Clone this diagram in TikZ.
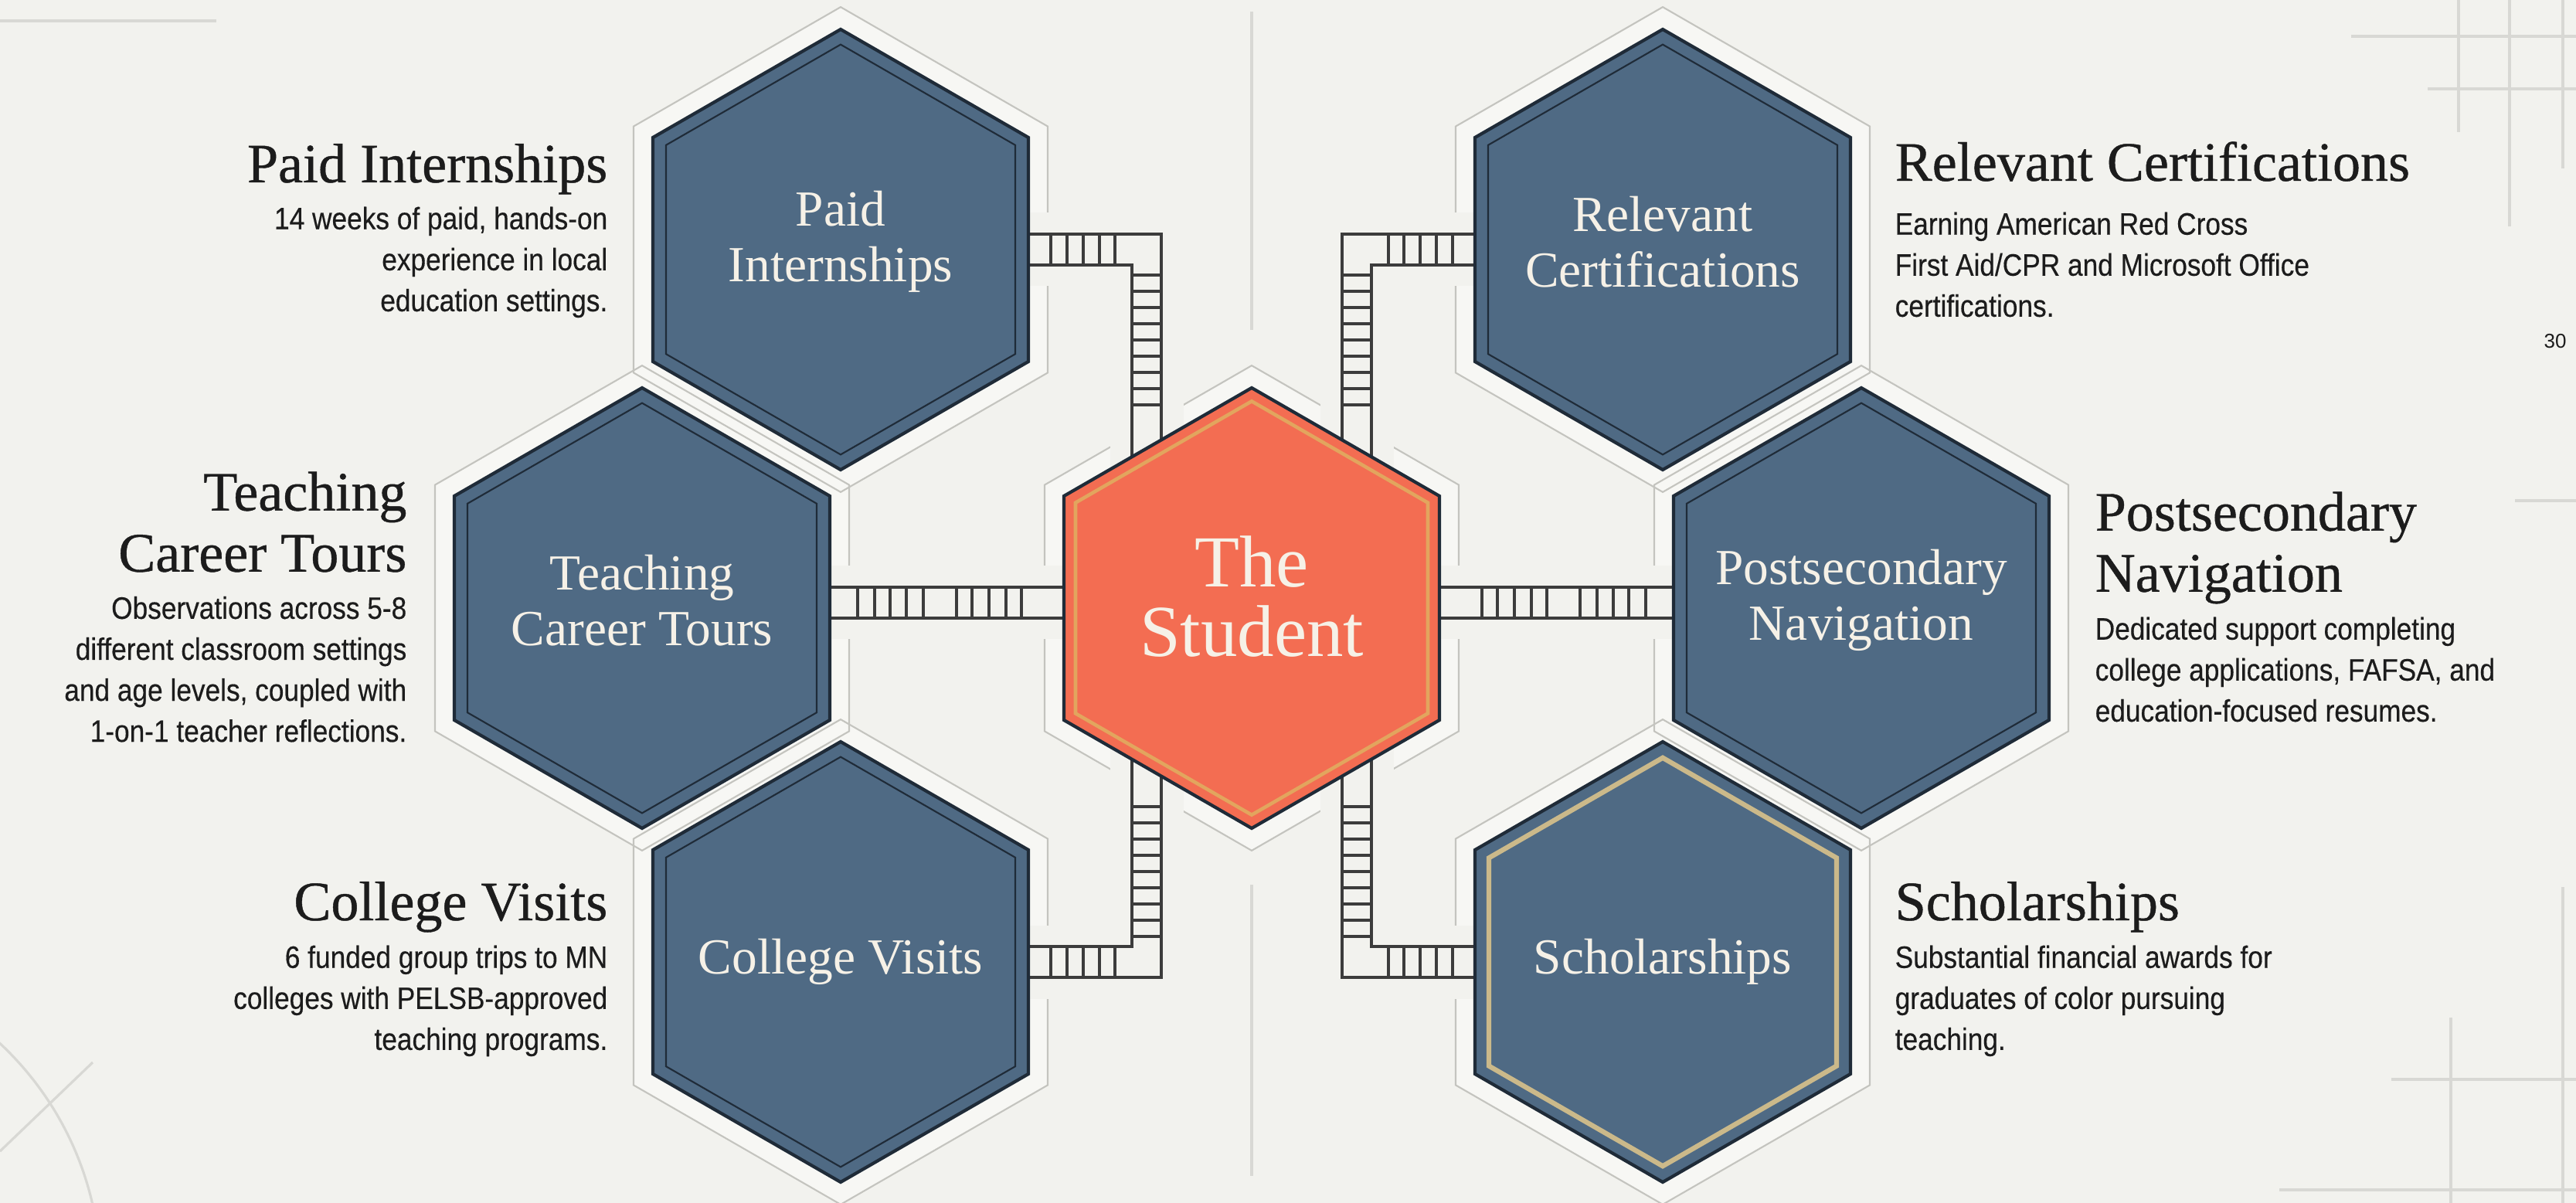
\documentclass[tikz,border=0pt]{standalone}
\usepackage{fontspec}
\setmainfont{Liberation Serif}
\newfontfamily\headserif[FakeBold=0.6]{Liberation Serif}
\newfontfamily\bodysans[FakeStretch=0.88, FakeBold=0.35]{Liberation Sans}
\newfontfamily\plainsans{Liberation Sans}
\usepackage{tikz}
\usetikzlibrary{calc, positioning}

\definecolor{paper}{HTML}{F2F2EE}
\definecolor{cellpaper}{HTML}{F7F7F4}
\definecolor{halogray}{HTML}{C4C4BF}
\definecolor{decogray}{HTML}{D8D8D4}
\definecolor{railgray}{HTML}{3C3C3C}
\definecolor{slate}{HTML}{4F6A84}
\definecolor{edge}{HTML}{1F2B38}
\definecolor{coral}{HTML}{F36D52}
\definecolor{gold}{HTML}{E2A55E}
\definecolor{palegold}{HTML}{CBB98A}
\definecolor{cream}{HTML}{F6F1E7}
\definecolor{ink}{HTML}{1C1C1C}

% hexagon around the origin, pushed out (or in) by #1 cm
\newcommand{\hexshape}[1]{(0,{2.85+1.155*(#1)}) -- ({2.43+(#1)},{1.45+0.577*(#1)}) -- ({2.43+(#1)},{-1.45-0.577*(#1)}) -- (0,{-2.85-1.155*(#1)}) -- ({-2.43-(#1)},{-1.45-0.577*(#1)}) -- ({-2.43-(#1)},{1.45+0.577*(#1)}) -- cycle}

\tikzset{
    deco/.style={draw=decogray, line width=0.9pt},
    cellhalo/.style={fill=cellpaper},
    cellline/.style={draw=halogray, line width=0.6pt},
    gap/.style={draw=paper, line width=0.95cm},
    rail/.style={draw=railgray, line width=0.9pt},
    cellblue/.style={fill=slate, draw=edge, line width=1.2pt, line join=miter},
    cellcoral/.style={fill=coral, draw=edge, line width=1.2pt, line join=miter},
    cellrim/.style={draw=edge, line width=0.6pt, line join=miter},
    goldrim/.style={draw=gold, line width=1.3pt, line join=miter},
    palerim/.style={draw=palegold, line width=1.8pt, line join=miter},
    hexlbl/.style={text=cream, align=center, font=\fontsize{18.6}{20.6}\selectfont},
    ttl/.style={text=ink, inner sep=0pt, font=\headserif\fontsize{20.5}{22.5}\selectfont},
    desc/.style={text=ink, inner sep=0pt, font=\bodysans\fontsize{11.4}{15.1}\selectfont},
}

\begin{document}
\begin{tikzpicture}
    \fill[paper] (0,0) rectangle (33.34,-15.57);
    \useasboundingbox (0,0) rectangle (33.34,-15.57);
    \clip (0,0) rectangle (33.34,-15.57);

    % faint rules in the corners and on the middle axis
    \draw[deco] (0,-0.27) -- (2.80,-0.27);
    \draw[deco] (31.82,0) -- (31.82,-1.71);
    \draw[deco] (32.48,0) -- (32.48,-2.93);
    \draw[deco] (33.17,0) -- (33.17,-2.18);
    \draw[deco] (30.43,-0.47) -- (33.34,-0.47);
    \draw[deco] (31.42,-1.15) -- (33.34,-1.15);
    \draw[deco] (32.55,-6.48) -- (33.34,-6.48);
    \draw[deco] (31.72,-13.17) -- (31.72,-15.57);
    \draw[deco] (33.17,-11.48) -- (33.17,-15.57);
    \draw[deco] (30.95,-13.97) -- (33.34,-13.97);
    \draw[deco] (29.50,-15.40) -- (33.34,-15.40);
    \draw[deco] (-2.80,-16.50) circle (4.10);
    \draw[deco] (0,-14.90) -- (1.20,-13.75);
    \draw[deco] (16.20,-0.15) -- (16.20,-4.27);
    \draw[deco] (16.20,-11.45) -- (16.20,-15.22);

    % hex centres
    \coordinate (student) at (16.20,-7.87);
    \coordinate (paid)    at (10.88,-3.23);
    \coordinate (tours)   at (8.31,-7.87);
    \coordinate (visits)  at (10.88,-12.45);
    \coordinate (certs)   at (21.52,-3.23);
    \coordinate (navig)   at (24.09,-7.87);
    \coordinate (grants)  at (21.52,-12.45);

    % light cells behind the hexagons
    \foreach \c in {paid,tours,visits,certs,navig,grants,student} {
        \begin{scope}[shift={(\c)}]
            \fill[cellhalo] \hexshape{0.25};
        \end{scope}
    }
    \foreach \c in {paid,tours,visits,certs,navig,grants,student} {
        \begin{scope}[shift={(\c)}]
            \draw[cellline] \hexshape{0.25};
        \end{scope}
    }

    % clear a lane for every ladder
    \foreach \h in {paid,visits}
        \draw[gap] ($(\h)+(2.43,0)$) -| ($(student)+(-1.36,0)$);
    \foreach \h in {certs,grants}
        \draw[gap] ($(\h)+(-2.43,0)$) -| ($(student)+(1.36,0)$);
    \draw[gap] ([yshift=0.7mm]tours) -- ([yshift=0.7mm]student);
    \draw[gap] ([yshift=0.7mm]student) -- ([yshift=0.7mm]navig);

    % ladders, left side
    \foreach \h/\s in {paid/1,visits/-1} {
        \draw[rail] ($(\h)+(2.43,{0.2*(\s)})$) -| ($(student)+(-1.17,0)$);
        \draw[rail] ($(\h)+(2.43,{-0.2*(\s)})$) -| ($(student)+(-1.55,0)$);
        \foreach \x in {0.29,0.50,0.71,0.92,1.12}
            \draw[rail] ($(\h)+(2.43+\x,0.2)$) -- ++(0,-0.4);
        \foreach \k in {0,...,8}
            \draw[rail] ($(student |- \h)+(-1.55,{0-(\s)*(0.33+0.21*\k)})$) -- ++(0.38,0);
    }
    % ladders, right side
    \foreach \h/\s in {certs/1,grants/-1} {
        \draw[rail] ($(\h)+(-2.43,{0.2*(\s)})$) -| ($(student)+(1.17,0)$);
        \draw[rail] ($(\h)+(-2.43,{-0.2*(\s)})$) -| ($(student)+(1.55,0)$);
        \foreach \x in {0.29,0.50,0.71,0.92,1.12}
            \draw[rail] ($(\h)+(-2.43-\x,0.2)$) -- ++(0,-0.4);
        \foreach \k in {0,...,8}
            \draw[rail] ($(student |- \h)+(1.17,{0-(\s)*(0.33+0.21*\k)})$) -- ++(0.38,0);
    }
    % straight ladders through the middle
    \draw[rail] ([yshift=2.7mm]tours) -- ([yshift=2.7mm]student);
    \draw[rail] ([yshift=-1.3mm]tours) -- ([yshift=-1.3mm]student);
    \draw[rail] ([yshift=2.7mm]student) -- ([yshift=2.7mm]navig);
    \draw[rail] ([yshift=-1.3mm]student) -- ([yshift=-1.3mm]navig);
    \foreach \x in {0.36,0.58,0.78,0.99,1.21,1.64,1.84,2.06,2.28,2.48} {
        \draw[rail] ($(tours)+(2.43+\x,0.27)$) -- ++(0,-0.4);
        \draw[rail] ($(navig)+(-2.43-\x,0.27)$) -- ++(0,-0.4);
    }

    % hexagons
    \foreach \c in {paid,tours,visits,certs,navig} {
        \begin{scope}[shift={(\c)}]
            \draw[cellblue] \hexshape{0};
            \draw[cellrim] \hexshape{-0.17};
        \end{scope}
    }
    \begin{scope}[shift={(grants)}]
        \draw[cellblue] \hexshape{0};
        \draw[palerim] \hexshape{-0.18};
    \end{scope}
    \begin{scope}[shift={(student)}]
        \draw[cellcoral] \hexshape{0};
        \draw[goldrim] \hexshape{-0.15};
    \end{scope}

    \node[hexlbl] (paid-l) at ([yshift=1mm]paid) {Paid\\Internships};
    \node[hexlbl] (tours-l) at ([yshift=1mm]tours) {Teaching\\Career Tours};
    \node[hexlbl] (visits-l) at (visits) {College Visits};
    \node[hexlbl] (certs-l) at ([yshift=1mm]certs) {Relevant\\Certifications};
    \node[hexlbl] (navig-l) at ([yshift=1mm]navig) {Postsecondary\\Navigation};
    \node[hexlbl] (grants-l) at (grants) {Scholarships};
    \node[hexlbl, font=\fontsize{27}{25.6}\selectfont] (student-l) at ([yshift=1.5mm]student) {The\\Student};

    % left column texts
    \node[ttl, anchor=base east] (paid-t) at (7.87,-2.36) {Paid Internships};
    \node[desc, align=right, below=0.31cm of paid-t.base east, anchor=north east] (paid-d)
        {14 weeks of paid, hands-on\\experience in local\\education settings.};
    \node[ttl, align=right, anchor=north east] (tours-t) at (5.27,-6.10) {Teaching\\Career Tours};
    \node[desc, align=right, below=0.30cm of tours-t.south east, anchor=north east] (tours-d)
        {Observations across 5-8\\different classroom settings\\and age levels, coupled with\\1-on-1 teacher reflections.};
    \node[ttl, anchor=base east] (visits-t) at (7.87,-11.91) {College Visits};
    \node[desc, align=right, below=0.32cm of visits-t.base east, anchor=north east] (visits-d)
        {6 funded group trips to MN\\colleges with PELSB-approved\\teaching programs.};

    % right column texts
    \node[ttl, anchor=base west] (certs-t) at (24.52,-2.34) {Relevant Certifications};
    \node[desc, align=left, below=0.40cm of certs-t.base west, anchor=north west] (certs-d)
        {Earning American Red Cross\\First Aid/CPR and Microsoft Office\\certifications.};
    \node[ttl, align=left, anchor=north west] (navig-t) at (27.11,-6.36) {Postsecondary\\Navigation};
    \node[desc, align=left, below=0.16cm of navig-t.south west, anchor=north west] (navig-d)
        {Dedicated support completing\\college applications, FAFSA, and\\education-focused resumes.};
    \node[ttl, anchor=base west] (grants-t) at (24.52,-11.91) {Scholarships};
    \node[desc, align=left, below=0.32cm of grants-t.base west, anchor=north west] (grants-d)
        {Substantial financial awards for\\graduates of color pursuing\\teaching.};

    \node[text=ink, font=\plainsans\fontsize{7.4}{9}\selectfont] (page) at (33.07,-4.42) {30};
\end{tikzpicture}
\end{document}
